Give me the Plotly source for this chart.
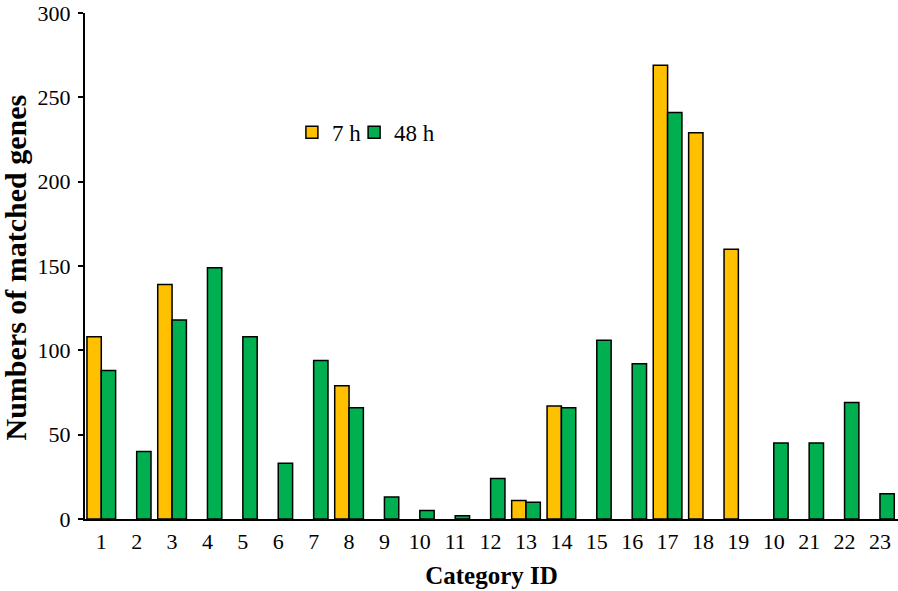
import plotly.graph_objects as go

positions = list(range(1, 24))
tick_labels = ["1", "2", "3", "4", "5", "6", "7", "8", "9", "10", "11", "12",
               "13", "14", "15", "16", "17", "18", "19", "10", "21", "22", "23"]
h7 = [108, None, 139, None, None, None, None, 79, None, None, None, None, 11, 67,
      None, None, 269, 229, 160, None, None, None, None]
h48 = [88, 40, 118, 149, 108, 33, 94, 66, 13, 5, 2, 24, 10, 66, 106, 92, 241,
       None, None, 45, 45, 69, 15]
y_ticks = [0, 50, 100, 150, 200, 250, 300]

font_family = "Liberation Serif, Times New Roman, serif"

fig = go.Figure()
fig.add_trace(go.Bar(x=positions, y=h7, name="7 h", legend="legend",
                     marker=dict(color="#FFC000", line=dict(color="black", width=1.5))))
fig.add_trace(go.Bar(x=positions, y=h48, name="48 h", legend="legend2",
                     marker=dict(color="#00B050", line=dict(color="black", width=1.5))))

legend_common = dict(orientation="h", y=0.764, xanchor="left", yanchor="middle",
                     font=dict(size=23, family=font_family), bgcolor="rgba(0,0,0,0)",
                     itemwidth=30)

fig.update_layout(
    width=898, height=591,
    margin=dict(l=85, r=0, t=13, b=72),
    plot_bgcolor="white", paper_bgcolor="white",
    barmode="group", bargap=0.19, bargroupgap=0,
    font=dict(family=font_family, color="black", size=22),
    showlegend=True,
    legend=dict(x=0.2545, **legend_common),
    legend2=dict(x=0.331, **legend_common),
    annotations=[dict(text="<b>Numbers of matched genes</b>", textangle=-90,
                      xref="paper", yref="paper", x=(16 - 85) / 813, y=0.497,
                      xanchor="center", yanchor="middle", showarrow=False,
                      font=dict(size=30, family=font_family))],
)
fig.update_xaxes(
    range=[0.54, 23.51], tickmode="array", tickvals=positions, ticktext=tick_labels,
    showline=True, linecolor="black", linewidth=2, ticks="", showgrid=False,
    zeroline=False, tickfont=dict(size=22), ticklabelstandoff=2,
    ticklabeloverflow="allow", automargin=False,
    title=dict(text="<b>Category ID</b>", font=dict(size=25), standoff=13),
)
fig.update_yaxes(
    range=[0, 300], tickmode="array", tickvals=y_ticks,
    showline=True, linecolor="black", linewidth=2, ticks="outside", ticklen=5,
    tickwidth=2, tickcolor="black", showgrid=False, zeroline=False,
    tickfont=dict(size=22), ticklabelstandoff=3, ticklabeloverflow="allow",
    automargin=False,
)

fig.write_html("out.html", config={"displayModeBar": False},
               post_script="document.body.style.margin='0px';")
